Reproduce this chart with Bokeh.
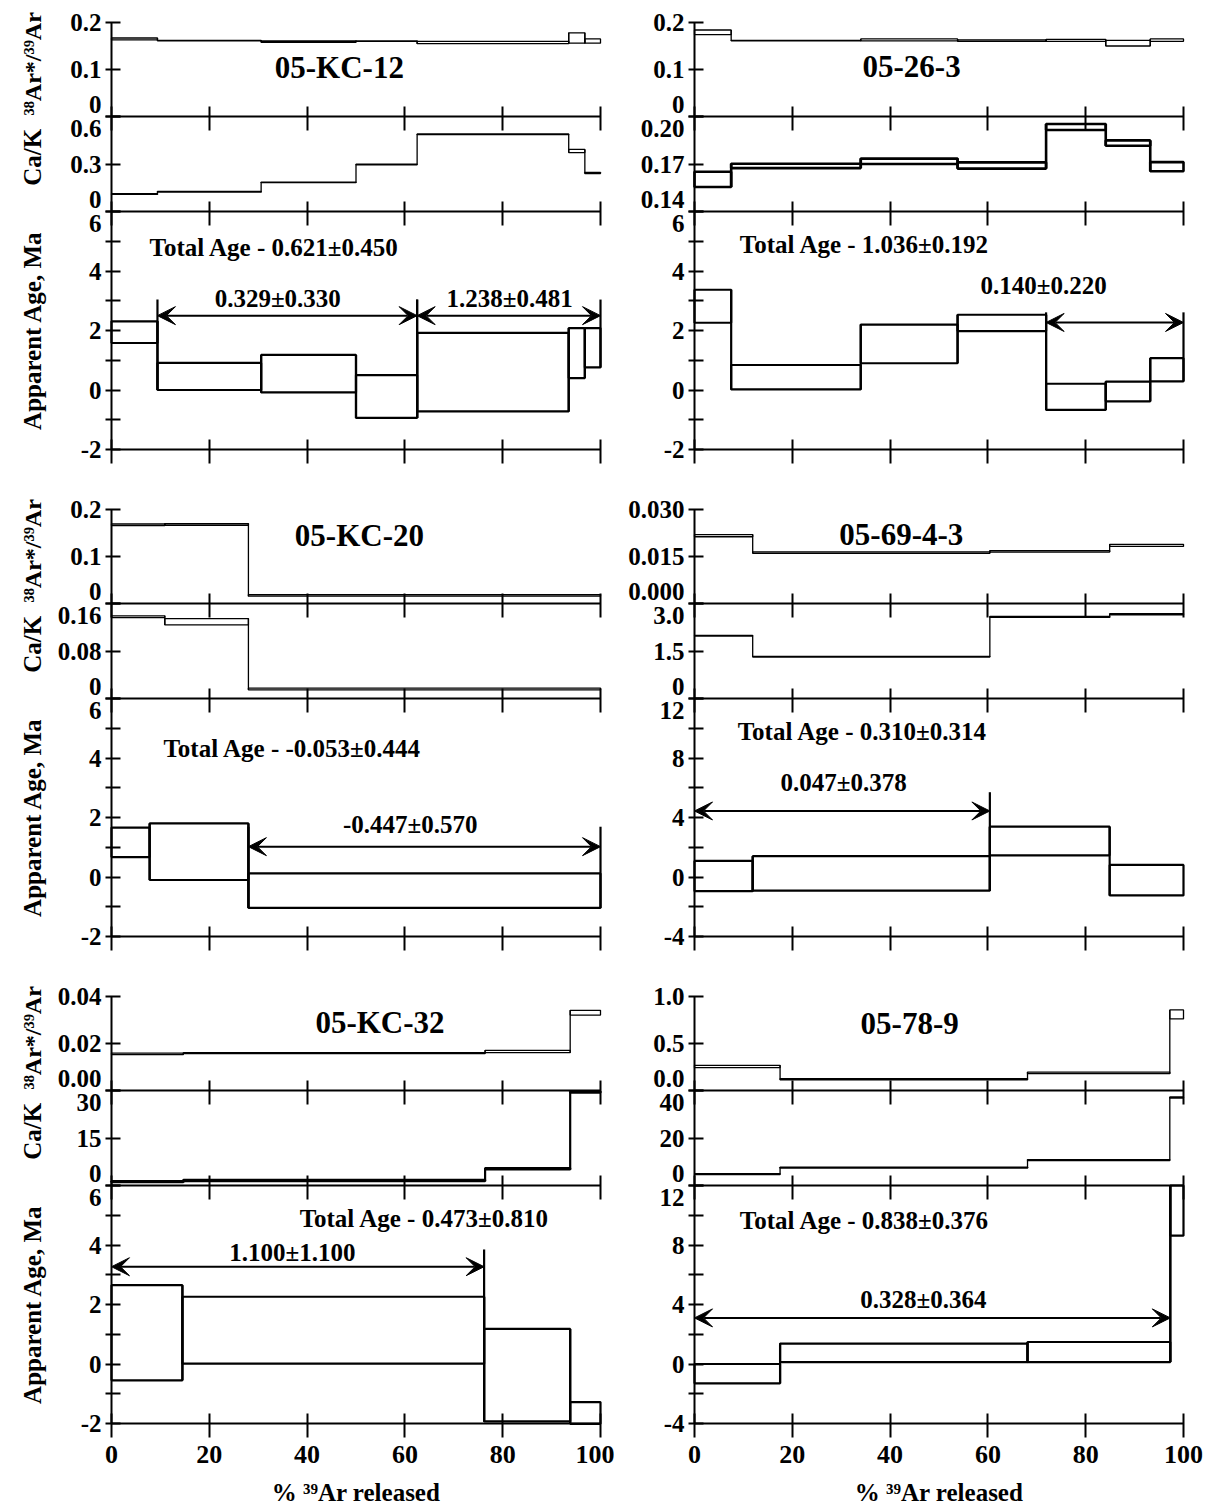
import math
from bokeh.plotting import figure
from bokeh.models import Range1d, LinearAxis, FixedTicker, Arrow, VeeHead
from bokeh.layouts import row, column
from bokeh.embed import file_html
from bokeh.resources import INLINE
from bokeh.core.properties import value

FONT = "Liberation Serif"

# ---------------- data ----------------
x_ticks = [0, 20, 40, 60, 80, 100]
x_tick_labels = ["0", "20", "40", "60", "80", "100"]

age_ticks_a = [-2, -1, 0, 1, 2, 3, 4, 5, 6]
age_labels_a = ["-2", "", "0", "", "2", "", "4", "", "6"]
age_ticks_b = [-4, -2, 0, 2, 4, 6, 8, 10, 12]
age_labels_b = ["-4", "", "0", "", "4", "", "8", "", "12"]

# 05-KC-12
kc12_name = "05-KC-12"
kc12_steps = [0, 9.4, 30.6, 50.0, 62.5, 93.5, 96.8, 100]
kc12_ar_lo = [0.163, 0.161, 0.158, 0.160, 0.155, 0.156, 0.156]
kc12_ar_hi = [0.167, 0.162, 0.161, 0.161, 0.160, 0.178, 0.165]
kc12_ca_lo = [0.108, 0.122, 0.182, 0.295, 0.486, 0.372, 0.240]
kc12_ca_hi = [0.112, 0.127, 0.186, 0.299, 0.490, 0.392, 0.247]
kc12_age_steps = [0, 9.4, 30.6, 50.0, 62.5, 93.5, 96.8, 100]
kc12_age_lo = [1.58, 0.00, -0.08, -0.94, -0.72, 0.40, 0.76]
kc12_age_hi = [2.31, 0.91, 1.18, 0.50, 1.92, 2.08, 2.08]
kc12_ar_ticks, kc12_ar_labels = [0, 0.1, 0.2], ["0", "0.1", "0.2"]
kc12_ca_ticks, kc12_ca_labels = [0, 0.3, 0.6], ["0", "0.3", "0.6"]
kc12_total = "Total Age - 0.621\u00b10.450"
kc12_pl_x0 = [9.4, 62.5]
kc12_pl_x1 = [62.5, 100]
kc12_pl_y = [2.50, 2.50]
kc12_pl_text = ["0.329\u00b10.330", "1.238\u00b10.481"]

# 05-26-3
s263_name = "05-26-3"
s263_steps = [0, 7.5, 34.0, 53.8, 71.9, 84.1, 93.2, 100]
s263_ar_lo = [0.174, 0.161, 0.161, 0.160, 0.160, 0.150, 0.160]
s263_ar_hi = [0.184, 0.162, 0.165, 0.163, 0.164, 0.162, 0.165]
s263_ca_lo = [0.1555, 0.1674, 0.1700, 0.1671, 0.1915, 0.1815, 0.1654]
s263_ca_hi = [0.1651, 0.1702, 0.1734, 0.1710, 0.1953, 0.1849, 0.1712]
s263_age_steps = [0, 7.5, 34.0, 53.8, 71.9, 84.1, 93.2, 100]
s263_age_lo = [2.26, 0.02, 0.90, 1.98, -0.67, -0.38, 0.29]
s263_age_hi = [3.37, 0.84, 2.20, 2.53, 0.21, 0.28, 1.07]
s263_ar_ticks, s263_ar_labels = [0, 0.1, 0.2], ["0", "0.1", "0.2"]
s263_ca_ticks, s263_ca_labels = [0.14, 0.17, 0.20], ["0.14", "0.17", "0.20"]
s263_total = "Total Age - 1.036\u00b10.192"
s263_pl_x0 = [71.9]
s263_pl_x1 = [100]
s263_pl_y = [2.27]
s263_pl_text = ["0.140\u00b10.220"]

# 05-KC-20
kc20_name = "05-KC-20"
kc20_steps = [0, 10.9, 28.0, 100]
kc20_ar_lo = [0.166, 0.1665, 0.0156]
kc20_ar_hi = [0.1695, 0.170, 0.019]
kc20_ca_lo = [0.1363, 0.124, 0.0146]
kc20_ca_hi = [0.1392, 0.1346, 0.0175]
kc20_age_steps = [0, 7.8, 28.0, 100]
kc20_age_lo = [0.67, -0.10, -1.04]
kc20_age_hi = [1.66, 1.80, 0.12]
kc20_ar_ticks, kc20_ar_labels = [0, 0.1, 0.2], ["0", "0.1", "0.2"]
kc20_ca_ticks, kc20_ca_labels = [0, 0.08, 0.16], ["0", "0.08", "0.16"]
kc20_total = "Total Age - -0.053\u00b10.444"
kc20_pl_x0 = [28.0]
kc20_pl_x1 = [100]
kc20_pl_y = [1.02]
kc20_pl_text = ["-0.447\u00b10.570"]

# 05-69-4-3
s6943_name = "05-69-4-3"
s6943_steps = [0, 11.9, 60.4, 84.9, 100]
s6943_ar_lo = [0.0213, 0.0160, 0.0164, 0.0182]
s6943_ar_hi = [0.0220, 0.0165, 0.0169, 0.0189]
s6943_ca_lo = [1.97, 1.31, 2.56, 2.64]
s6943_ca_hi = [1.99, 1.33, 2.59, 2.68]
s6943_age_steps = [0, 11.9, 60.4, 84.9, 100]
s6943_age_lo = [-0.95, -0.92, 1.46, -1.24]
s6943_age_hi = [1.08, 1.40, 3.38, 0.81]
s6943_ar_ticks, s6943_ar_labels = [0, 0.015, 0.03], ["0.000", "0.015", "0.030"]
s6943_ca_ticks, s6943_ca_labels = [0, 1.5, 3.0], ["0", "1.5", "3.0"]
s6943_total = "Total Age  - 0.310\u00b10.314"
s6943_pl_x0 = [0]
s6943_pl_x1 = [60.4]
s6943_pl_y = [4.44]
s6943_pl_text = ["0.047\u00b10.378"]

# 05-KC-32
kc32_name = "05-KC-32"
kc32_steps = [0, 14.7, 76.4, 93.8, 100]
kc32_ar_lo = [0.0153, 0.0157, 0.0161, 0.0321]
kc32_ar_hi = [0.0159, 0.0161, 0.0171, 0.0341]
kc32_ca_lo = [1.05, 1.37, 5.05, 29.3]
kc32_ca_hi = [1.37, 1.80, 5.50, 29.7]
kc32_age_steps = [0, 14.5, 76.2, 93.8, 100]
kc32_age_lo = [-0.55, 0.01, -1.93, -2.01]
kc32_age_hi = [2.65, 2.26, 1.18, -1.28]
kc32_ar_ticks, kc32_ar_labels = [0, 0.02, 0.04], ["0.00", "0.02", "0.04"]
kc32_ca_ticks, kc32_ca_labels = [0, 15, 30], ["0", "15", "30"]
kc32_total = "Total Age - 0.473\u00b10.810"
kc32_pl_x0 = [0]
kc32_pl_x1 = [76.2]
kc32_pl_y = [3.27]
kc32_pl_text = ["1.100\u00b11.100"]

# 05-78-9
s789_name = "05-78-9"
s789_steps = [0, 17.5, 68.1, 97.2, 100]
s789_ar_lo = [0.243, 0.114, 0.179, 0.761]
s789_ar_hi = [0.268, 0.125, 0.196, 0.857]
s789_ca_lo = [4.6, 7.3, 10.5, 36.8]
s789_ca_hi = [5.0, 7.7, 10.9, 37.3]
s789_age_steps = [0, 17.5, 68.1, 97.3, 100]
s789_age_lo = [-1.30, 0.13, 0.13, 8.63]
s789_age_hi = [0.0, 1.37, 1.48, 12.0]
s789_ar_ticks, s789_ar_labels = [0, 0.5, 1.0], ["0.0", "0.5", "1.0"]
s789_ca_ticks, s789_ca_labels = [0, 20, 40], ["0", "20", "40"]
s789_total = "Total Age - 0.838\u00b10.376"
s789_pl_x0 = [0]
s789_pl_x1 = [97.3]
s789_pl_y = [3.10]
s789_pl_text = ["0.328\u00b10.364"]

# ---------------- layout / annotation placement ----------------
samples = [
    dict(name=kc12_name, steps=kc12_steps, ar_lo=kc12_ar_lo, ar_hi=kc12_ar_hi,
         ca_lo=kc12_ca_lo, ca_hi=kc12_ca_hi, age_steps=kc12_age_steps,
         age_lo=kc12_age_lo, age_hi=kc12_age_hi,
         ar_ticks=kc12_ar_ticks, ar_labels=kc12_ar_labels,
         ca_ticks=kc12_ca_ticks, ca_labels=kc12_ca_labels,
         age_ticks=age_ticks_a, age_labels=age_labels_a,
         total=kc12_total, pl_x0=kc12_pl_x0, pl_x1=kc12_pl_x1, pl_y=kc12_pl_y,
         pl_text=kc12_pl_text,
         title_pos=(46.6, 0.52), total_pos=(33.3, 4.79),
         pl_pos=[(34.0, 3.08), (81.4, 3.08)], pl_top=[3.04, 3.04], ca_lw=1.3),
    dict(name=s263_name, steps=s263_steps, ar_lo=s263_ar_lo, ar_hi=s263_ar_hi,
         ca_lo=s263_ca_lo, ca_hi=s263_ca_hi, age_steps=s263_age_steps,
         age_lo=s263_age_lo, age_hi=s263_age_hi,
         ar_ticks=s263_ar_ticks, ar_labels=s263_ar_labels,
         ca_ticks=s263_ca_ticks, ca_labels=s263_ca_labels,
         age_ticks=age_ticks_a, age_labels=age_labels_a,
         total=s263_total, pl_x0=s263_pl_x0, pl_x1=s263_pl_x1, pl_y=s263_pl_y,
         pl_text=s263_pl_text,
         title_pos=(44.4, 0.53), total_pos=(34.8, 4.88),
         pl_pos=[(71.4, 3.51)], pl_top=[2.61], ca_lw=2.6),
    dict(name=kc20_name, steps=kc20_steps, ar_lo=kc20_ar_lo, ar_hi=kc20_ar_hi,
         ca_lo=kc20_ca_lo, ca_hi=kc20_ca_hi, age_steps=kc20_age_steps,
         age_lo=kc20_age_lo, age_hi=kc20_age_hi,
         ar_ticks=kc20_ar_ticks, ar_labels=kc20_ar_labels,
         ca_ticks=kc20_ca_ticks, ca_labels=kc20_ca_labels,
         age_ticks=age_ticks_a, age_labels=age_labels_a,
         total=kc20_total, pl_x0=kc20_pl_x0, pl_x1=kc20_pl_x1, pl_y=kc20_pl_y,
         pl_text=kc20_pl_text,
         title_pos=(50.7, 0.72), total_pos=(37.0, 4.32),
         pl_pos=[(61.1, 1.76)], pl_top=[1.69], ca_lw=1.3),
    dict(name=s6943_name, steps=s6943_steps, ar_lo=s6943_ar_lo, ar_hi=s6943_ar_hi,
         ca_lo=s6943_ca_lo, ca_hi=s6943_ca_hi, age_steps=s6943_age_steps,
         age_lo=s6943_age_lo, age_hi=s6943_age_hi,
         ar_ticks=s6943_ar_ticks, ar_labels=s6943_ar_labels,
         ca_ticks=s6943_ca_ticks, ca_labels=s6943_ca_labels,
         age_ticks=age_ticks_b, age_labels=age_labels_b,
         total=s6943_total, pl_x0=s6943_pl_x0, pl_x1=s6943_pl_x1, pl_y=s6943_pl_y,
         pl_text=s6943_pl_text,
         title_pos=(42.3, 0.73), total_pos=(35.0, 9.78),
         pl_pos=[(30.5, 6.35)], pl_top=[5.70], ca_lw=1.3),
    dict(name=kc32_name, steps=kc32_steps, ar_lo=kc32_ar_lo, ar_hi=kc32_ar_hi,
         ca_lo=kc32_ca_lo, ca_hi=kc32_ca_hi, age_steps=kc32_age_steps,
         age_lo=kc32_age_lo, age_hi=kc32_age_hi,
         ar_ticks=kc32_ar_ticks, ar_labels=kc32_ar_labels,
         ca_ticks=kc32_ca_ticks, ca_labels=kc32_ca_labels,
         age_ticks=age_ticks_a, age_labels=age_labels_a,
         total=kc32_total, pl_x0=kc32_pl_x0, pl_x1=kc32_pl_x1, pl_y=kc32_pl_y,
         pl_text=kc32_pl_text,
         title_pos=(54.9, 0.72), total_pos=(64.0, 4.90),
         pl_pos=[(37.0, 3.75)], pl_top=[3.85], ca_lw=2.2),
    dict(name=s789_name, steps=s789_steps, ar_lo=s789_ar_lo, ar_hi=s789_ar_hi,
         ca_lo=s789_ca_lo, ca_hi=s789_ca_hi, age_steps=s789_age_steps,
         age_lo=s789_age_lo, age_hi=s789_age_hi,
         ar_ticks=s789_ar_ticks, ar_labels=s789_ar_labels,
         ca_ticks=s789_ca_ticks, ca_labels=s789_ca_labels,
         age_ticks=age_ticks_b, age_labels=age_labels_b,
         total=s789_total, pl_x0=s789_pl_x0, pl_x1=s789_pl_x1, pl_y=s789_pl_y,
         pl_text=s789_pl_text,
         title_pos=(44.0, 0.71), total_pos=(34.8, 9.65),
         pl_pos=[(46.8, 4.34)], pl_top=[12.0], ca_lw=1.3),
]

# pixel geometry of one panel
AR_H, CA_H, AGE_H = 94, 95, 238
SUB_H = AR_H + CA_H + AGE_H
PLOT_W = 489                      # pixels for 0..100 %
PCT = PLOT_W / 100.0
NB = "\u00a0"
TICK_FS = "25px"
COL_PADS = [(111, 14), (80, 29)]
ROW_PADS = [(22, 30), (30, 30), (30, 82)]


def make_ranges(s, pt, pb):
    fh = pt + SUB_H + pb
    a0, a1 = min(s["age_ticks"]), max(s["age_ticks"])
    ua = (a1 - a0) / AGE_H
    age_r = Range1d(a0 - pb * ua, a0 + (fh - pb) * ua)
    c0, c1 = min(s["ca_ticks"]), max(s["ca_ticks"])
    uc = (c1 - c0) / CA_H
    ca_r = Range1d(c0 - (pb + AGE_H) * uc, c0 + (fh - pb - AGE_H) * uc)
    r0, r1 = min(s["ar_ticks"]), max(s["ar_ticks"])
    ur = (r1 - r0) / AR_H
    ar_r = Range1d(r0 - (pb + AGE_H + CA_H) * ur, r1 + pt * ur)
    return age_r, ca_r, ar_r, ua


def add_y_axis(p, rname, ticks, labels, shift_low_up, shift_high_down):
    labs = list(labels)
    if shift_low_up:
        labs[0] = labs[0] + "\n" + NB
    if shift_high_down:
        labs[-1] = NB + "\n" + labs[-1]
    ax = LinearAxis(ticker=FixedTicker(ticks=ticks),
                    major_label_overrides={t: l for t, l in zip(ticks, labs)},
                    fixed_location=0, bounds=(min(ticks), max(ticks)),
                    major_tick_in=9, major_tick_out=6, major_tick_line_width=2,
                    minor_tick_line_color=None, axis_line_width=2,
                    major_label_text_font=FONT, major_label_text_font_style="bold",
                    major_label_text_font_size=TICK_FS, major_label_standoff=4,
                    major_label_text_color="black", major_label_text_line_height=0.9)
    if rname != "default":
        ax.y_range_name = rname
    p.add_layout(ax, "left")


def add_x_axis(p, rname, loc, show_labels):
    labs = x_tick_labels if show_labels else [""] * len(x_ticks)
    ax = LinearAxis(ticker=FixedTicker(ticks=x_ticks),
                    major_label_overrides={t: l for t, l in zip(x_ticks, labs)},
                    fixed_location=loc, bounds=(0, 100),
                    major_tick_in=10, major_tick_out=14, major_tick_line_width=2,
                    minor_tick_line_color=None, axis_line_width=2,
                    major_label_text_font=FONT, major_label_text_font_style="bold",
                    major_label_text_font_size="26px", major_label_standoff=8,
                    major_label_text_color="black")
    if rname != "default":
        ax.y_range_name = rname
    p.add_layout(ax, "below")


def step_series(p, steps, lo, hi, lw, rname):
    kw = dict(line_color="black", line_width=lw)
    if rname != "default":
        kw["y_range_name"] = rname
    p.quad(left=steps[:-1], right=steps[1:], bottom=lo, top=hi, fill_color=None, **kw)
    # vertical connectors between consecutive steps
    xs = steps[1:-1]
    y0 = [min(a, b) for a, b in zip(lo[:-1], lo[1:])]
    y1 = [max(a, b) for a, b in zip(hi[:-1], hi[1:])]
    p.segment(x0=xs, y0=y0, x1=xs, y1=y1, **kw)


def build_panel(s, ci, ri):
    pl, pr = COL_PADS[ci]
    pt, pb = ROW_PADS[ri]
    age_r, ca_r, ar_r, ua = make_ranges(s, pt, pb)
    p = figure(frame_width=pl + PLOT_W + pr, frame_height=pt + SUB_H + pb,
               x_range=Range1d(-pl / PCT, 100 + pr / PCT), y_range=age_r,
               x_axis_location=None, y_axis_location=None, title=None,
               output_backend="svg", toolbar_location=None,
               min_border=0, min_border_left=0, min_border_right=0,
               min_border_top=0, min_border_bottom=0,
               background_fill_color="white", border_fill_color="white",
               outline_line_color=None)
    p.extra_y_ranges = {"ar": ar_r, "ca": ca_r}
    p.grid.grid_line_color = None

    step_series(p, s["steps"], s["ar_lo"], s["ar_hi"], 1.3, "ar")
    step_series(p, s["steps"], s["ca_lo"], s["ca_hi"], s["ca_lw"], "ca")
    ast = s["age_steps"]
    step_series(p, ast, s["age_lo"], s["age_hi"], 2.2, "default")

    # plateau markers
    mx, my0, my1 = [], [], []
    for i, (x0, x1) in enumerate(zip(s["pl_x0"], s["pl_x1"])):
        for x in (x0, x1):
            if x <= 0:
                continue
            lows = [lo for l, r, lo in zip(ast[:-1], ast[1:], s["age_lo"])
                    if abs(l - x) < 1e-6 or abs(r - x) < 1e-6]
            mx.append(x)
            my0.append(min(lows))
            my1.append(s["pl_top"][i])
        p.add_layout(Arrow(start=VeeHead(size=18, fill_color="black", line_color="black", line_width=1),
                           end=VeeHead(size=18, fill_color="black", line_color="black", line_width=1),
                           x_start=x0, y_start=s["pl_y"][i], x_end=x1, y_end=s["pl_y"][i],
                           line_width=2, line_color="black"))
    if mx:
        p.segment(x0=mx, y0=my0, x1=mx, y1=my1, line_color="black", line_width=2.2)

    tkw = dict(text_font=value(FONT), text_font_style="bold", text_align="center",
               text_baseline="middle", text_color="black")
    p.text(x=[pp[0] for pp in s["pl_pos"]], y=[pp[1] for pp in s["pl_pos"]], text=s["pl_text"],
           text_font_size="25px", **tkw)
    p.text(x=[s["total_pos"][0]], y=[s["total_pos"][1]], text=[s["total"]],
           text_font_size="25px", **tkw)
    r0, r1 = min(s["ar_ticks"]), max(s["ar_ticks"])
    p.text(x=[s["title_pos"][0]], y=[r0 + s["title_pos"][1] * (r1 - r0)], text=[s["name"]],
           text_font_size="31px", y_range_name="ar", **tkw)

    # vertical axis titles (left column only)
    if ci == 0:
        xt = -79 / PCT
        c0, c1 = min(s["ca_ticks"]), max(s["ca_ticks"])
        a0, a1 = min(s["age_ticks"]), max(s["age_ticks"])
        p.text(x=[xt], y=[r0 + 0.56 * (r1 - r0)], text=["\u00b3\u2078Ar*/\u00b3\u2079Ar"],
               angle=math.pi / 2, text_font_size="24px", y_range_name="ar", **tkw)
        p.text(x=[xt], y=[c0 + 0.57 * (c1 - c0)], text=["Ca/K"],
               angle=math.pi / 2, text_font_size="25px", y_range_name="ca", **tkw)
        p.text(x=[xt], y=[(a0 + a1) / 2], text=["Apparent Age, Ma"],
               angle=math.pi / 2, text_font_size="25px", **tkw)
    if ri == 2:
        a0 = min(s["age_ticks"])
        p.text(x=[50], y=[a0 - 69 * ua], text=["% \u00b3\u2079Ar released"],
               text_font_size="25px", **tkw)

    # axes
    add_y_axis(p, "ar", s["ar_ticks"], s["ar_labels"], True, False)
    add_y_axis(p, "ca", s["ca_ticks"], s["ca_labels"], True, True)
    add_y_axis(p, "default", s["age_ticks"], s["age_labels"], False, True)
    add_x_axis(p, "ar", min(s["ar_ticks"]), False)
    add_x_axis(p, "ca", min(s["ca_ticks"]), False)
    add_x_axis(p, "default", min(s["age_ticks"]), ri == 2)
    return p


rows = []
for ri in range(3):
    left = build_panel(samples[2 * ri], 0, ri)
    right = build_panel(samples[2 * ri + 1], 1, ri)
    rows.append(row(left, right))

layout = column(*rows)
open("out.html", "w").write(file_html(layout, INLINE))
